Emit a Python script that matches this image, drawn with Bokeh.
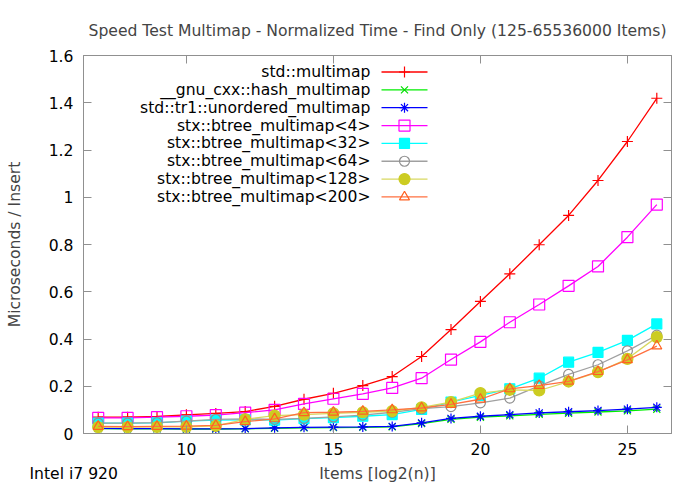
from bokeh.plotting import figure
from bokeh.models import (Range1d, FixedTicker, NumeralTickFormatter, LinearAxis,
                          Label, CustomJSTickFormatter, ColumnDataSource, Title)
from bokeh.embed import file_html
from bokeh.resources import INLINE

# ---- data ----
items_log2 = list(range(7, 27))
std_multimap = [0.069, 0.069, 0.072, 0.079, 0.085, 0.093, 0.115, 0.145, 0.170, 0.203,
                0.241, 0.326, 0.440, 0.559, 0.676, 0.799, 0.923, 1.071, 1.236, 1.419]
gnu_hash_multimap = [0.021, 0.020, 0.020, 0.019, 0.019, 0.020, 0.022, 0.024, 0.025, 0.026,
                     0.028, 0.042, 0.060, 0.069, 0.075, 0.081, 0.086, 0.091, 0.096, 0.103]
tr1_unordered_multimap = [0.022, 0.021, 0.021, 0.020, 0.020, 0.021, 0.024, 0.026, 0.027, 0.028,
                          0.030, 0.045, 0.064, 0.073, 0.080, 0.087, 0.092, 0.097, 0.103, 0.111]
btree_4 = [0.066, 0.066, 0.069, 0.073, 0.078, 0.088, 0.100, 0.125, 0.147, 0.168,
           0.193, 0.234, 0.313, 0.388, 0.471, 0.546, 0.625, 0.707, 0.831, 0.969]
btree_32 = [0.044, 0.044, 0.045, 0.052, 0.057, 0.058, 0.057, 0.063, 0.067, 0.073,
            0.080, 0.102, 0.133, 0.161, 0.189, 0.234, 0.302, 0.343, 0.394, 0.464]
btree_64 = [0.044, 0.044, 0.046, 0.052, 0.060, 0.062, 0.060, 0.064, 0.070, 0.078,
            0.090, 0.105, 0.114, 0.130, 0.150, 0.202, 0.250, 0.291, 0.350, 0.416]
btree_128 = [0.027, 0.027, 0.028, 0.028, 0.032, 0.060, 0.076, 0.080, 0.085, 0.090,
             0.095, 0.111, 0.133, 0.171, 0.185, 0.182, 0.220, 0.260, 0.316, 0.408]
btree_200 = [0.030, 0.029, 0.030, 0.031, 0.034, 0.050, 0.062, 0.088, 0.090, 0.094,
             0.100, 0.108, 0.123, 0.145, 0.189, 0.203, 0.221, 0.262, 0.312, 0.370]

series_names = ["std::multimap", "__gnu_cxx::hash_multimap", "std::tr1::unordered_multimap",
                "stx::btree_multimap<4>", "stx::btree_multimap<32>", "stx::btree_multimap<64>",
                "stx::btree_multimap<128>", "stx::btree_multimap<200>"]
series_values = [std_multimap, gnu_hash_multimap, tr1_unordered_multimap, btree_4,
                 btree_32, btree_64, btree_128, btree_200]
x_ticks = [10, 15, 20, 25]
y_ticks = [0, 0.2, 0.4, 0.6, 0.8, 1.0, 1.2, 1.4, 1.6]

# ---- styles ----
line_colors = ["#ff0000", "#00ee00", "#0000ff", "#ff00ff", "#00ffff", "#a0a0a0", "#d8d860", "#ff7040"]
mark_colors = ["#ff0000", "#00dd00", "#0000ff", "#ff00ff", "#00ffff", "#909090", "#cccc22", "#ff6020"]
markers = ["cross", "x", "asterisk", "square", "square", "circle", "circle", "triangle"]
filled = [False, False, False, False, True, False, True, False]
sizes = [11, 10, 10, 11, 10, 10, 11, 10]

FONT = "DejaVu Sans"
FS = "15.6px"
X0, X1, Y0, Y1 = 6.5, 26.5, 0.0, 1.6
L, R, T, B = 83, 29, 55, 57
W, H = 700, 490
FW, FH = W - L - R, H - T - B

p = figure(width=W, height=H, x_range=Range1d(X0, X1), y_range=Range1d(Y0, Y1),
           output_backend="svg", toolbar_location=None,
           min_border_left=L, min_border_right=R, min_border_top=T, min_border_bottom=B,
           title="Speed Test Multimap - Normalized Time - Find Only (125-65536000 Items)")
p.title.text_font = FONT
p.title.text_font_size = FS
p.title.text_font_style = "normal"
p.title.align = "center"
p.title.standoff = 31
p.grid.visible = False
p.outline_line_color = "#909090"
p.background_fill_color = "white"
p.border_fill_color = "white"

def style_axis(ax, ticks, labels=True):
    ax.ticker = FixedTicker(ticks=ticks, minor_ticks=[])
    ax.major_tick_in = 8
    ax.major_tick_out = 0
    ax.minor_tick_line_color = None
    ax.axis_line_color = "#909090"
    ax.major_tick_line_color = "#909090"
    ax.major_label_text_font = FONT
    ax.major_label_text_font_size = FS
    ax.major_label_text_color = "black"
    ax.axis_label_text_font = FONT
    ax.axis_label_text_font_size = FS
    ax.axis_label_text_font_style = "normal"
    if not labels:
        ax.formatter = CustomJSTickFormatter(code="return ''")
        ax.major_label_standoff = 0

style_axis(p.xaxis[0], x_ticks)
style_axis(p.yaxis[0], y_ticks)
p.xaxis[0].axis_label = "Items [log2(n)]"
p.xaxis[0].major_label_standoff = 9
p.xaxis[0].axis_label_standoff = 7
p.yaxis[0].axis_label = "Microseconds / Insert"
p.yaxis[0].major_label_standoff = 10
p.yaxis[0].axis_label_standoff = 22
p.yaxis[0].formatter = NumeralTickFormatter(format="0.[0]")

top_ax = LinearAxis()
style_axis(top_ax, x_ticks, labels=False)
p.add_layout(top_ax, "above")
right_ax = LinearAxis()
style_axis(right_ax, y_ticks, labels=False)
p.add_layout(right_ax, "right")

for name, vals, lc, mc, mk, fl, sz in zip(series_names, series_values, line_colors,
                                          mark_colors, markers, filled, sizes):
    src = ColumnDataSource(dict(x=items_log2, y=vals))
    p.line("x", "y", source=src, line_color=lc, line_width=1.3)
    p.scatter("x", "y", source=src, marker=mk, size=sz, line_color=mc, line_width=1.2,
              fill_color=mc if fl else None)

# ---- legend (text left, key right, like gnuplot) ----
def sx_to_x(sx):
    return X0 + (sx - L) / FW * (X1 - X0)

def sy_to_y(sy):
    return Y0 + (T + FH - sy) / FH * (Y1 - Y0)

leg_text_right = 370
leg_key_left, leg_key_right, leg_key_mid = 381, 427, 404
leg_row0, leg_dy = 71.5, 17.85
for i, (name, lc, mc, mk, fl, sz) in enumerate(zip(series_names, line_colors, mark_colors,
                                                   markers, filled, sizes)):
    sy = leg_row0 + i * leg_dy
    p.add_layout(Label(x=leg_text_right - L, y=T + FH - sy, x_units="screen", y_units="screen",
                       text=name, text_align="right", text_baseline="middle",
                       text_font=FONT, text_font_size=FS, text_color="black"))
    yy = sy_to_y(sy)
    p.segment(x0=[sx_to_x(leg_key_left)], y0=[yy], x1=[sx_to_x(leg_key_right)], y1=[yy],
              line_color=lc, line_width=1.3)
    p.scatter(x=[sx_to_x(leg_key_mid)], y=[yy], marker=mk, size=sz, line_color=mc,
              line_width=1.2, fill_color=mc if fl else None)

cpu_note = Title(text="Intel i7 920", align="left", vertical_align="top", offset=29 - L,
                 standoff=-42, text_font=FONT, text_font_size=FS, text_font_style="normal",
                 text_color="black")
p.add_layout(cpu_note, "below")

open("out.html", "w").write(file_html(p, INLINE))
